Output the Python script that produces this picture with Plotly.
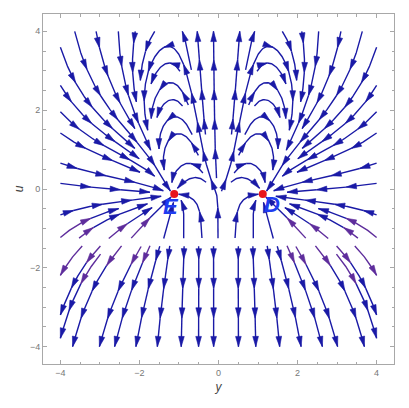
import math
import plotly.graph_objects as go

# ---------------- values ----------------
fixed_y = [-1.12, 1.12]          # equilibrium points E and D (y coordinate)
fixed_u = [-0.13, -0.13]         # (u coordinate)
point_labels = ["E", "D"]
label_y = [-1.22, 1.35]
label_u = [-0.50, -0.45]
singular_u = -1.35               # horizontal line where the flow reverses
x_ticks = [-4, -2, 0, 2, 4]
y_ticks = [-4, -2, 0, 2, 4]
minor_ticks = [-3.5, -3, -2.5, -1.5, -1, -0.5, 0.5, 1, 1.5, 2.5, 3, 3.5]
field_box = [-4.0, 4.0]
view_range = [-4.44, 4.44]

# vector-field shape parameters (qualitative model of the plotted system)
KAPPA = 0.7
RHO_SLOPE = 0.32
T_OFF = 0.02
CUBIC = 0.045

BLUE = "#1a1aa6"
PURPLE = "#5e2d9c"
YELLOW = "#f2b322"
FRAME = "#a8a8a8"

YE = fixed_y[1]
UE = fixed_u[1]
US = UE - T_OFF


def f_t(t):
    return t * (1.5 - 0.5 * math.tanh(2.0 * t)) + CUBIC * t ** 3


EPS = YE ** 2 * f_t(T_OFF) - KAPPA * T_OFF ** 2


def field(y, u):
    t = u - US
    rho = max(0.0, YE + RHO_SLOPE * (u - UE))
    m = (0.15 + 0.35 * y * y) / (1.0 + 0.03 * y ** 4)
    P = y * (rho * rho - y * y) * m
    Q = -y * y * f_t(t) + KAPPA * t * t + EPS
    w = u - singular_u
    return P / w, Q / w


# ---------------- evenly spaced streamlines ----------------
H = 0.025
DSEP = 0.33
DTEST = 0.14
CELL = 0.14
WGAP = 0.09
RFIX = 0.10
MAXSTEP = 1500
MINLEN = 0.25
LO, HI = field_box
grid = {}


def key(y, u):
    return (int(math.floor((y + 6) / CELL)), int(math.floor((u + 6) / CELL)))


def too_close(y, u, r):
    ci, cj = key(y, u)
    k = int(math.ceil(r / CELL))
    r2 = r * r
    for i in range(ci - k, ci + k + 1):
        for j in range(cj - k, cj + k + 1):
            for (qy, qu) in grid.get((i, j), ()):
                if (qy - y) ** 2 + (qu - u) ** 2 < r2:
                    return True
    return False


def unit_dir(y, u, sgn):
    fy, fu = field(y, u)
    n = math.hypot(fy, fu)
    if not math.isfinite(n) or n < 1e-12:
        return None
    return sgn * fy / n, sgn * fu / n


def blocked(y, u):
    if abs(u - singular_u) < WGAP:
        return True
    for fy_, fu_ in zip(fixed_y, fixed_u):
        if (y - fy_) ** 2 + (u - fu_) ** 2 < RFIX ** 2:
            return True
    return False


def trace(y, u, sgn):
    pts = []
    for _ in range(MAXSTEP):
        d1 = unit_dir(y, u, sgn)
        if d1 is None:
            break
        d2 = unit_dir(y + 0.5 * H * d1[0], u + 0.5 * H * d1[1], sgn)
        if d2 is None or d1[0] * d2[0] + d1[1] * d2[1] < 0.0:
            break
        ny, nu = y + H * d2[0], u + H * d2[1]
        if ny < LO or ny > HI or nu < LO or nu > HI:
            s = 1.0
            dy, du = ny - y, nu - u
            if ny < LO:
                s = min(s, (LO - y) / dy)
            if ny > HI:
                s = min(s, (HI - y) / dy)
            if nu < LO:
                s = min(s, (LO - u) / du)
            if nu > HI:
                s = min(s, (HI - u) / du)
            pts.append((y + s * dy, u + s * du))
            break
        if blocked(ny, nu) or too_close(ny, nu, DTEST):
            break
        y, u = ny, nu
        pts.append((y, u))
    return pts


def add_line(sy, su, lines):
    if blocked(sy, su) or abs(su - singular_u) < WGAP + 0.03:
        return
    if too_close(sy, su, DSEP):
        return
    back = trace(sy, su, -1.0)
    fwd = trace(sy, su, 1.0)
    line = back[::-1] + [(sy, su)] + fwd
    length = 0.0
    for k in range(1, len(line)):
        length += math.hypot(line[k][0] - line[k - 1][0], line[k][1] - line[k - 1][1])
    if length < MINLEN:
        return
    for p in line:
        grid.setdefault(key(*p), []).append(p)
    lines.append(line)


lines = []
for spacing in (1.0, 0.5, 0.25, 0.125):
    n = int(round((HI - LO) / spacing))
    for j in range(n - 1, -1, -1):
        su = LO + (j + 0.5) * spacing
        for i in range(n // 2):
            sy = LO + (i + 0.5) * spacing
            add_line(sy, su, lines)
            add_line(-sy, su, lines)

# ---------------- split into arrow segments, colour by speed ----------------
ARROW_GAP = 0.75
ARROW_LEN = 0.26
ARROW_HALF = 0.072
S1, S2 = 110.0, 520.0

seg = {BLUE: ([], []), PURPLE: ([], []), YELLOW: ([], [])}
heads = {BLUE: ([], []), PURPLE: ([], []), YELLOW: ([], [])}


def speed(p):
    fy, fu = field(p[0], p[1])
    return math.hypot(fy, fu)


for line in lines:
    cum = [0.0]
    for k in range(1, len(line)):
        cum.append(cum[-1] + math.hypot(line[k][0] - line[k - 1][0], line[k][1] - line[k - 1][1]))
    L = cum[-1]
    marks = []
    s = L
    while s > 0.3 or not marks:
        marks.append(s)
        s -= ARROW_GAP
    marks.sort()
    idxs = []
    k = 0
    for mk in marks:
        while k < len(line) - 1 and cum[k] < mk - 1e-9:
            k += 1
        idxs.append(max(k, 1))
    start = 0
    for ix in idxs:
        piece = line[start:ix + 1]
        sp = max(speed(p) for p in piece)
        col = BLUE if sp < S1 else (PURPLE if sp < S2 else YELLOW)
        xs, ys = seg[col]
        xs.extend([p[0] for p in piece] + [None])
        ys.extend([p[1] for p in piece] + [None])
        j0 = max(ix - 3, 0)
        dy = line[ix][0] - line[j0][0]
        du = line[ix][1] - line[j0][1]
        dn = math.hypot(dy, du) or 1.0
        dy, du = dy / dn, du / dn
        ty, tu = line[ix]
        by, bu = ty - ARROW_LEN * dy, tu - ARROW_LEN * du
        hx, hy = heads[col]
        hx.extend([ty, by - ARROW_HALF * du, by + ARROW_HALF * du, ty, None])
        hy.extend([tu, bu + ARROW_HALF * dy, bu - ARROW_HALF * dy, tu, None])
        start = ix

fig = go.Figure()
for col in (BLUE, PURPLE, YELLOW):
    xs, ys = seg[col]
    if xs:
        fig.add_trace(go.Scatter(x=xs, y=ys, mode="lines", line=dict(color=col, width=1.4),
                                 hoverinfo="skip", showlegend=False))
for col in (BLUE, PURPLE, YELLOW):
    hx, hy = heads[col]
    if hx:
        fig.add_trace(go.Scatter(x=hx, y=hy, mode="lines", fill="toself", fillcolor=col,
                                 line=dict(color=col, width=0.6), hoverinfo="skip", showlegend=False))

fig.add_trace(go.Scatter(x=fixed_y, y=fixed_u, mode="markers",
                         marker=dict(size=8, color="#e8151c", line=dict(width=0)),
                         hoverinfo="skip", showlegend=False))
fig.add_trace(go.Scatter(x=label_y, y=label_u, mode="text",
                         text=["<b><i>%s</i></b>" % s for s in point_labels],
                         textfont=dict(size=22, color="#1f3cf0", family="Liberation Sans"),
                         textposition="middle center", hoverinfo="skip", showlegend=False))

axis_common = dict(
    range=view_range, showgrid=False, zeroline=False, showline=True, linecolor=FRAME,
    linewidth=1, mirror="ticks", ticks="inside", ticklen=4, tickwidth=1, tickcolor=FRAME,
    tickfont=dict(size=9, color="#777777", family="Liberation Sans"),
    minor=dict(tickmode="array", tickvals=minor_ticks, ticks="inside", ticklen=2.5,
               tickcolor=FRAME, showgrid=False),
)
fig.update_xaxes(tickmode="array", tickvals=x_ticks,
                 title=dict(text="<i>y</i>", font=dict(size=12, color="#444444", family="Liberation Sans"),
                            standoff=5),
                 **axis_common)
fig.update_yaxes(tickmode="array", tickvals=y_ticks,
                 title=dict(text="<i>u</i>", font=dict(size=12, color="#444444", family="Liberation Sans"),
                            standoff=3),
                 **axis_common)
# the page body adds an 8px margin, so the figure is sized to fit inside the window
fig.update_layout(width=393, height=392, margin=dict(l=35, r=7, t=6, b=36),
                  paper_bgcolor="white", plot_bgcolor="white", showlegend=False)
fig.write_html("out.html")
